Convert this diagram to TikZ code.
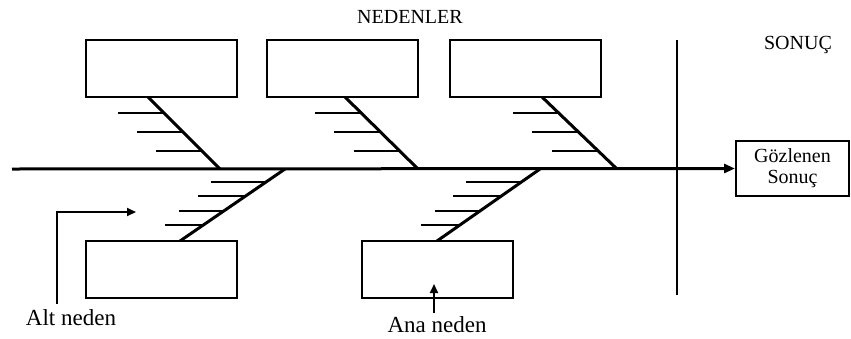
\documentclass[tikz,border=0pt]{standalone}
\usepackage{fontspec}
\setmainfont{Liberation Serif}
\usetikzlibrary{arrows.meta,calc}
\begin{document}
\begin{tikzpicture}[x=1pt,y=-1pt,
  causebox/.style={draw,line width=2pt,minimum width=151pt,minimum height=57pt,inner sep=0pt},
  bone/.style={line width=3pt},
  rib/.style={line width=2pt},
  label/.style={font=\fontsize{20}{22}\selectfont,inner sep=0pt},
  biglabel/.style={font=\fontsize{23}{25}\selectfont,inner sep=0pt},
  pointer/.style={line width=2pt,-{Triangle[length=9pt,width=8pt]}}]
\useasboundingbox (0,0) rectangle (851,338);

% headings
\node[label] (causes) at (410,17) {NEDENLER};
\node[label] (effect) at (798,45) {SONUÇ};

% cause boxes
\node[causebox] (t1) at (161.5,68.5) {};
\node[causebox] (t2) at (342.5,68.5) {};
\node[causebox] (t3) at (525,68.5) {};
\node[causebox] (b1) at (161.5,269) {};
\node[causebox] (b2) at (437.5,269) {};

% effect box
\node[draw,line width=2pt,minimum width=113pt,minimum height=55pt,inner sep=0pt,
  align=center,font=\fontsize{20}{21}\selectfont] (res) at (792.5,168.5) {Gözlenen\\Sonuç};

% spine and separator
\coordinate (tail) at (12,169);
\draw[bone,-{Triangle[length=11pt,width=9pt]}] (tail) -- (res.west);
\coordinate (sepT) at (677,40);
\coordinate (sepB) at (677,295);
\draw[line width=2.2pt] (sepT) -- (sepB);

% upper bones
\coordinate (u1a) at (148,97);  \coordinate (u1b) at (220,169);
\coordinate (u2a) at (345,97);  \coordinate (u2b) at (418,169);
\coordinate (u3a) at (542,97);  \coordinate (u3b) at (617,169);
\draw[bone] (u1a) -- (u1b);
\draw[bone] (u2a) -- (u2b);
\draw[bone] (u3a) -- (u3b);
\foreach \u in {u1,u2,u3}{
  \foreach \t in {0.22,0.485,0.75}{
    \draw[rib] ($(\u a)!\t!(\u b)$) -- ++(-46,0);
  }
}

% lower bones
\coordinate (l1a) at (285,169); \coordinate (l1b) at (180,241);
\coordinate (l2a) at (540,169); \coordinate (l2b) at (437,241);
\draw[bone] (l1a) -- (l1b);
\draw[bone] (l2a) -- (l2b);
\foreach \l in {l1,l2}{
  \foreach \t/\len in {0.18/55,0.375/48,0.58/45,0.775/39}{
    \draw[rib] ($(\l a)!\t!(\l b)$) -- ++(-\len,0);
  }
}

% annotations
\node[biglabel] (alt) at (71,318) {Alt neden};
\node[biglabel] (ana) at (437,325) {Ana neden};
\coordinate (altS) at (57,304);
\coordinate (altE) at (136,212);
\draw[pointer] (altS) |- (altE);
\coordinate (anaS) at (434,313);
\coordinate (anaE) at (434,284);
\draw[pointer] (anaS) -- (anaE);
\end{tikzpicture}
\end{document}
